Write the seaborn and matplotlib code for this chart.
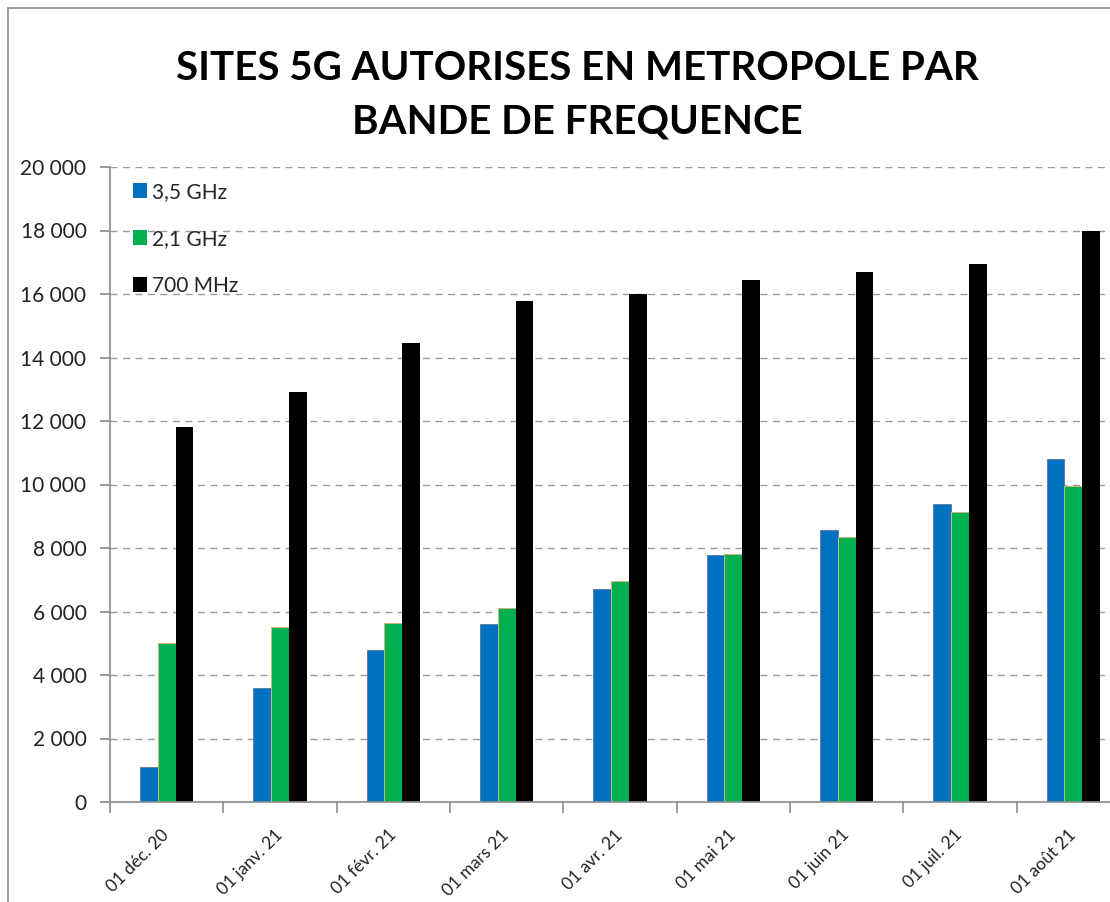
import matplotlib
matplotlib.use("Agg")
import matplotlib.pyplot as plt
import seaborn as sns
import pandas as pd
from matplotlib.lines import Line2D
from matplotlib.ticker import FuncFormatter, FixedLocator

months = ["01 déc. 20", "01 janv. 21", "01 févr. 21", "01 mars 21", "01 avr. 21",
          "01 mai 21", "01 juin 21", "01 juil. 21", "01 août 21"]
bands = ["3,5 GHz", "2,1 GHz", "700 MHz"]
ghz35 = [1100, 3600, 4800, 5600, 6700, 7780, 8570, 9400, 10800]
ghz21 = [5000, 5500, 5650, 6100, 6970, 7820, 8350, 9140, 9950]
mhz700 = [11800, 12900, 14450, 15780, 16000, 16450, 16700, 16950, 18000]
yticks = list(range(0, 20001, 2000))
title = "SITES 5G AUTORISES EN METROPOLE PAR\nBANDE DE FREQUENCE"

df = pd.DataFrame({
    "mois": months * 3,
    "bande": [bands[0]] * 9 + [bands[1]] * 9 + [bands[2]] * 9,
    "sites": ghz35 + ghz21 + mhz700,
})

sns.set_theme(style="white")
plt.rcParams["font.family"] = ["Lato", "DejaVu Sans"]

W, H = 1110, 902
fig = plt.figure(figsize=(W / 100, H / 100), dpi=100)
ax = fig.add_axes([110 / W, 1 - 802 / H, (1130 - 110) / W, (802 - 167) / H])

palette = {bands[0]: "#0070C0", bands[1]: "#00B050", bands[2]: "#000000"}
sns.barplot(data=df, x="mois", y="sites", hue="bande", order=months, hue_order=bands,
            palette=palette, width=0.47, gap=0, saturation=1, ax=ax, linewidth=0)
edge_cols = ["#5d7fa8", "#c9b87a", "none"]
for cont, ec in zip(ax.containers, edge_cols):
    for p in cont:
        p.set_edgecolor(ec)
        p.set_linewidth(0.7 if ec != "none" else 0)

ax.set_ylim(0, 20000)
ax.set_xlim(-0.5, 8.5)
ax.set_yticks(yticks)
ax.yaxis.set_major_formatter(FuncFormatter(lambda v, p: f"{int(v):,}".replace(",", " ")))
ax.yaxis.grid(True, linestyle=(0, (5, 4)), color="#9a9a9a", linewidth=1)
ax.set_axisbelow(True)
ax.set_xlabel("")
ax.set_ylabel("")
for s in ["top", "right"]:
    ax.spines[s].set_visible(False)
for s in ["left", "bottom"]:
    ax.spines[s].set_color("#8c8c8c")
    ax.spines[s].set_linewidth(1.2)

ax.tick_params(axis="y", which="major", left=True, length=7, color="#8c8c8c",
               labelsize=15, labelcolor="#222222", pad=10)
ax.tick_params(axis="x", which="major", bottom=False, labelsize=12.5,
               labelcolor="#222222", pad=16)
ax.xaxis.set_minor_locator(FixedLocator([i - 0.5 for i in range(10)]))
ax.tick_params(axis="x", which="minor", bottom=True, length=8, color="#8c8c8c", width=1.2)
for lab in ax.get_xticklabels():
    lab.set_rotation(45)
    lab.set_ha("right")
    lab.set_va("center")
    lab.set_rotation_mode("anchor")

handles, labels = ax.get_legend_handles_labels()
ax.legend(handles, labels, loc="upper left", bbox_to_anchor=(0.014, 0.99), frameon=False,
          fontsize=15, labelspacing=1.3, handlelength=0.7, handleheight=0.7,
          handletextpad=0.25, borderaxespad=0)

fig.text(577 / W, 1 - 95 / H, title, ha="center", va="center", fontsize=29,
         fontweight="bold", color="black", linespacing=1.55)

# figure frame
fig.add_artist(Line2D([8 / W, 8 / W], [0, 1 - 8 / H], transform=fig.transFigure,
                      color="#8c8c8c", linewidth=1.2))
fig.add_artist(Line2D([8 / W, 1], [1 - 8 / H, 1 - 8 / H], transform=fig.transFigure,
                      color="#8c8c8c", linewidth=1.2))

fig.savefig("out.png", dpi=100)
